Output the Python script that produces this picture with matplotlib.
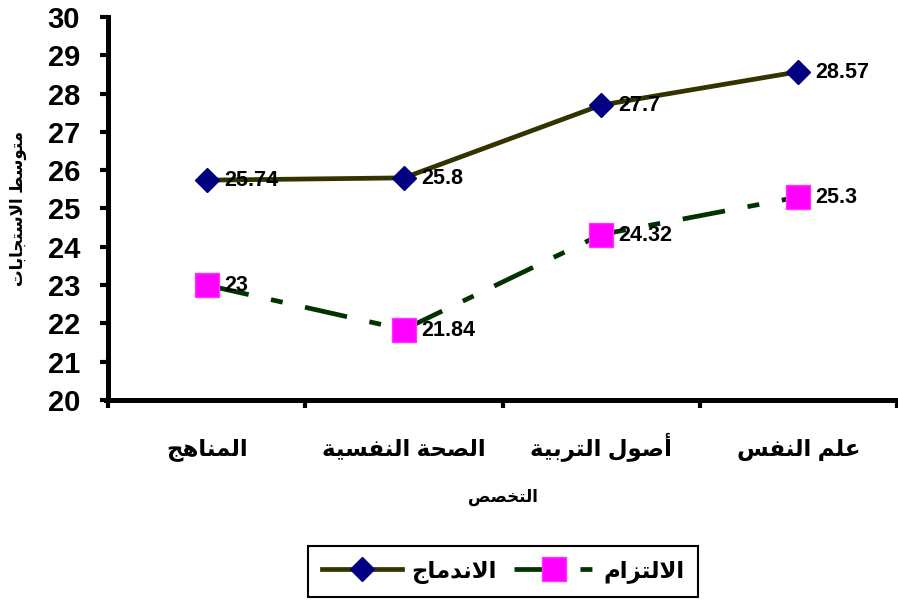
import matplotlib
matplotlib.use("Agg")
import matplotlib.pyplot as plt
from matplotlib.ticker import FixedLocator, NullFormatter, FixedFormatter

# ---------------- data ----------------
categories = ["المناهج", "الصحة النفسية", "أصول التربية", "علم النفس"]
series_names = ["الاندماج", "الالتزام"]
indimaj = [25.74, 25.8, 27.7, 28.57]
iltizam = [23, 21.84, 24.32, 25.3]
y_ticks = [20, 21, 22, 23, 24, 25, 26, 27, 28, 29, 30]
x_title = "التخصص"
y_title = "متوسط الاستجابات"

# ---------------- minimal Arabic shaping (for display only) ----------------
# char: (isolated, final, initial, medial); right-joining letters have only 2 forms
FORMS = {
    "\u0627": (0xFE8D, 0xFE8E), "\u0623": (0xFE83, 0xFE84), "\u0625": (0xFE87, 0xFE88),
    "\u0622": (0xFE81, 0xFE82),
    "\u0628": (0xFE8F, 0xFE90, 0xFE91, 0xFE92), "\u0629": (0xFE93, 0xFE94),
    "\u062A": (0xFE95, 0xFE96, 0xFE97, 0xFE98), "\u062B": (0xFE99, 0xFE9A, 0xFE9B, 0xFE9C),
    "\u062C": (0xFE9D, 0xFE9E, 0xFE9F, 0xFEA0), "\u062D": (0xFEA1, 0xFEA2, 0xFEA3, 0xFEA4),
    "\u062E": (0xFEA5, 0xFEA6, 0xFEA7, 0xFEA8), "\u062F": (0xFEA9, 0xFEAA),
    "\u0630": (0xFEAB, 0xFEAC), "\u0631": (0xFEAD, 0xFEAE), "\u0632": (0xFEAF, 0xFEB0),
    "\u0633": (0xFEB1, 0xFEB2, 0xFEB3, 0xFEB4), "\u0634": (0xFEB5, 0xFEB6, 0xFEB7, 0xFEB8),
    "\u0635": (0xFEB9, 0xFEBA, 0xFEBB, 0xFEBC), "\u0636": (0xFEBD, 0xFEBE, 0xFEBF, 0xFEC0),
    "\u0637": (0xFEC1, 0xFEC2, 0xFEC3, 0xFEC4), "\u0638": (0xFEC5, 0xFEC6, 0xFEC7, 0xFEC8),
    "\u0639": (0xFEC9, 0xFECA, 0xFECB, 0xFECC), "\u063A": (0xFECD, 0xFECE, 0xFECF, 0xFED0),
    "\u0641": (0xFED1, 0xFED2, 0xFED3, 0xFED4), "\u0642": (0xFED5, 0xFED6, 0xFED7, 0xFED8),
    "\u0643": (0xFED9, 0xFEDA, 0xFEDB, 0xFEDC), "\u0644": (0xFEDD, 0xFEDE, 0xFEDF, 0xFEE0),
    "\u0645": (0xFEE1, 0xFEE2, 0xFEE3, 0xFEE4), "\u0646": (0xFEE5, 0xFEE6, 0xFEE7, 0xFEE8),
    "\u0647": (0xFEE9, 0xFEEA, 0xFEEB, 0xFEEC), "\u0648": (0xFEED, 0xFEEE),
    "\u0649": (0xFEEF, 0xFEF0), "\u064A": (0xFEF1, 0xFEF2, 0xFEF3, 0xFEF4),
}
LAM_ALEF = {"\u0627": (0xFEFB, 0xFEFC), "\u0623": (0xFEF7, 0xFEF8),
            "\u0625": (0xFEF9, 0xFEFA), "\u0622": (0xFEF5, 0xFEF6)}


def _dual(c):
    return c in FORMS and len(FORMS[c]) == 4


def shape(text):
    out = []
    i = 0
    n = len(text)
    while i < n:
        c = text[i]
        if c not in FORMS:
            out.append(c)
            i += 1
            continue
        prev = text[i - 1] if i > 0 else ""
        join_prev = _dual(prev)
        if c == "\u0644" and i + 1 < n and text[i + 1] in LAM_ALEF:
            f = LAM_ALEF[text[i + 1]]
            out.append(chr(f[1] if join_prev else f[0]))
            i += 2
            continue
        nxt = text[i + 1] if i + 1 < n else ""
        join_next = _dual(c) and nxt in FORMS
        f = FORMS[c]
        if join_prev and join_next:
            g = f[3]
        elif join_prev:
            g = f[1]
        elif join_next:
            g = f[2]
        else:
            g = f[0]
        out.append(chr(g))
        i += 1
    return "".join(out)[::-1]


# ---------------- styling ----------------
FONT = ["Liberation Sans", "DejaVu Sans"]
plt.rcParams["font.family"] = FONT
plt.rcParams["font.weight"] = "bold"
plt.rcParams["lines.scale_dashes"] = False

fig = plt.figure(figsize=(8.98, 6.01), dpi=100)
ax = fig.add_axes([108 / 898, 1 - 400 / 601, 789 / 898, 383 / 601])

x = [i + 0.5 for i in range(len(categories))]

ax.plot(x, indimaj, color="#333300", linewidth=3.4, marker="D", markersize=12.5,
        markerfacecolor="#000080", markeredgecolor="#000080", label=shape(series_names[0]),
        zorder=3)
ax.plot(x, iltizam, color="#003300", linewidth=3.4, linestyle=(0, (31, 16.5, 8.6, 16.5)),
        marker="s", markersize=17, markerfacecolor="#FF00FF", markeredgecolor="#FF33FF",
        label=shape(series_names[1]), zorder=3)

for xs, ys in ((x, indimaj), (x, iltizam)):
    for xi, yi in zip(xs, ys):
        ax.annotate(f"{yi:g}", (xi, yi), xytext=(12.5, -0.5), textcoords="offset points",
                    ha="left", va="center", fontsize=15.5, fontweight="bold", zorder=4)

ax.set_xlim(0, 4)
ax.set_ylim(20, 30)

ax.set_yticks(y_ticks)
ax.set_yticklabels([str(t) for t in y_ticks])
ax.tick_params(axis="y", direction="out", length=6, width=3, labelsize=21, pad=14)

ax.xaxis.set_major_locator(FixedLocator([0, 1, 2, 3, 4]))
ax.xaxis.set_major_formatter(NullFormatter())
ax.xaxis.set_minor_locator(FixedLocator(x))
ax.xaxis.set_minor_formatter(FixedFormatter([shape(c) for c in categories]))
ax.tick_params(axis="x", which="major", direction="out", length=6, width=3)
ax.tick_params(axis="x", which="minor", length=0, labelsize=16.5, pad=40)

for lab in ax.get_xticklabels(minor=True):
    lab.set_fontweight("bold")
    lab.set_va("baseline")
for lab in ax.get_yticklabels():
    lab.set_fontweight("bold")

for side in ("top", "right"):
    ax.spines[side].set_visible(False)
for side in ("left", "bottom"):
    ax.spines[side].set_linewidth(3.6)
    ax.spines[side].set_color("black")
ax.spines["bottom"].set_bounds(-0.01, 4)

ax.set_xlabel(shape(x_title), fontsize=12, fontweight="bold")
ax.xaxis.set_label_coords(0.5, (400 - 497) / 383)
ax.xaxis.label.set_va("center")
ax.set_ylabel(shape(y_title), fontsize=12, fontweight="bold")
ax.yaxis.set_label_coords((18 - 108) / 789, 0.5)
ax.yaxis.label.set_va("center")

leg = fig.legend(loc="center", bbox_to_anchor=(503 / 898, 1 - 571.5 / 601), ncol=2,
                 frameon=True, fancybox=False, shadow=False, framealpha=1,
                 edgecolor="black", handlelength=3.5, handletextpad=0.4,
                 columnspacing=0.75, borderpad=0.6, numpoints=1,
                 prop={"family": FONT, "weight": "bold", "size": 16.5})
leg.get_frame().set_linewidth(1.5)

fig.savefig("out.png", dpi=100)
